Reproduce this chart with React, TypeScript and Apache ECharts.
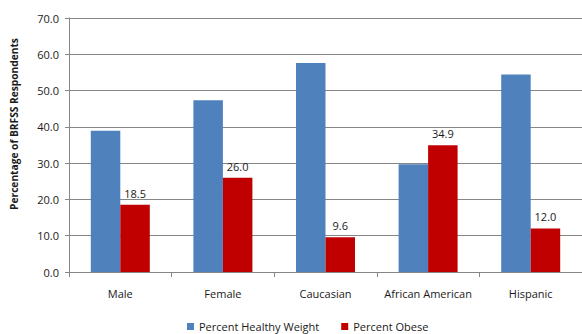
import React, { useEffect, useRef } from "react";
import * as echarts from "echarts";

const categories = ["Male", "Female", "Caucasian", "African American", "Hispanic"];
const healthyWeight = [38.9, 47.3, 57.6, 29.7, 54.4];
const obese = [18.5, 26.0, 9.6, 34.9, 12.0];
const seriesNames = ["Percent Healthy Weight", "Percent Obese"];
const yAxisTitle = "Percentage of BRFSS Respondents";

const FONT = "'Open Sans', 'Liberation Sans', sans-serif";

export default function App() {
  const ref = useRef<HTMLDivElement>(null);
  useEffect(() => {
    if (!ref.current) return;
    const chart = echarts.init(ref.current, undefined, { renderer: "svg" });
    chart.setOption({
      animation: false,
      textStyle: { fontFamily: FONT },
      grid: { left: 69, right: 0, top: 18, bottom: 62, containLabel: false },
      legend: {
        left: 187,
        top: 321,
        padding: 0,
        itemWidth: 7,
        itemHeight: 7,
        itemGap: 22,
        icon: "rect",
        textStyle: { fontSize: 11, color: "#1a1a1a", fontFamily: FONT },
        data: seriesNames,
      },
      graphic: [
        {
          type: "text",
          x: 14,
          y: 124,
          rotation: Math.PI / 2,
          style: {
            text: yAxisTitle,
            fontSize: 10.2,
            fontWeight: "bold",
            fill: "#1a1a1a",
            fontFamily: FONT,
            align: "center",
            verticalAlign: "middle",
          },
        },
      ],
      xAxis: {
        type: "category",
        data: categories,
        boundaryGap: true,
        axisLine: { lineStyle: { color: "#868686", width: 1 } },
        axisTick: { show: true, length: 5, lineStyle: { color: "#868686" } },
        axisLabel: { interval: 0, fontSize: 11, color: "#1a1a1a", margin: 16, fontFamily: FONT },
      },
      yAxis: {
        type: "value",
        min: 0,
        max: 70,
        interval: 10,
        axisLine: { show: true, lineStyle: { color: "#868686", width: 1 } },
        axisTick: { show: true, length: 4, lineStyle: { color: "#868686" } },
        axisLabel: {
          fontSize: 11,
          color: "#1a1a1a",
          margin: 10,
          fontFamily: FONT,
          formatter: (v: number) => v.toFixed(1),
        },
        splitLine: { show: true, lineStyle: { color: "#868686", width: 1 } },
      },
      series: [
        {
          name: seriesNames[0],
          type: "bar",
          data: healthyWeight,
          barWidth: 29.5,
          barGap: "0%",
          itemStyle: { color: "#4F81BD" },
        },
        {
          name: seriesNames[1],
          type: "bar",
          data: obese,
          barWidth: 29.5,
          barGap: "0%",
          itemStyle: { color: "#C00000" },
          label: {
            show: true,
            position: "top",
            distance: 6,
            fontSize: 11,
            color: "#1a1a1a",
            fontFamily: FONT,
            formatter: (p: any) => Number(p.value).toFixed(1),
          },
        },
      ],
    });
    return () => chart.dispose();
  }, []);
  return <div ref={ref} style={{ width: 582, height: 334, position: "absolute", left: 0, top: 0 }} />;
}
